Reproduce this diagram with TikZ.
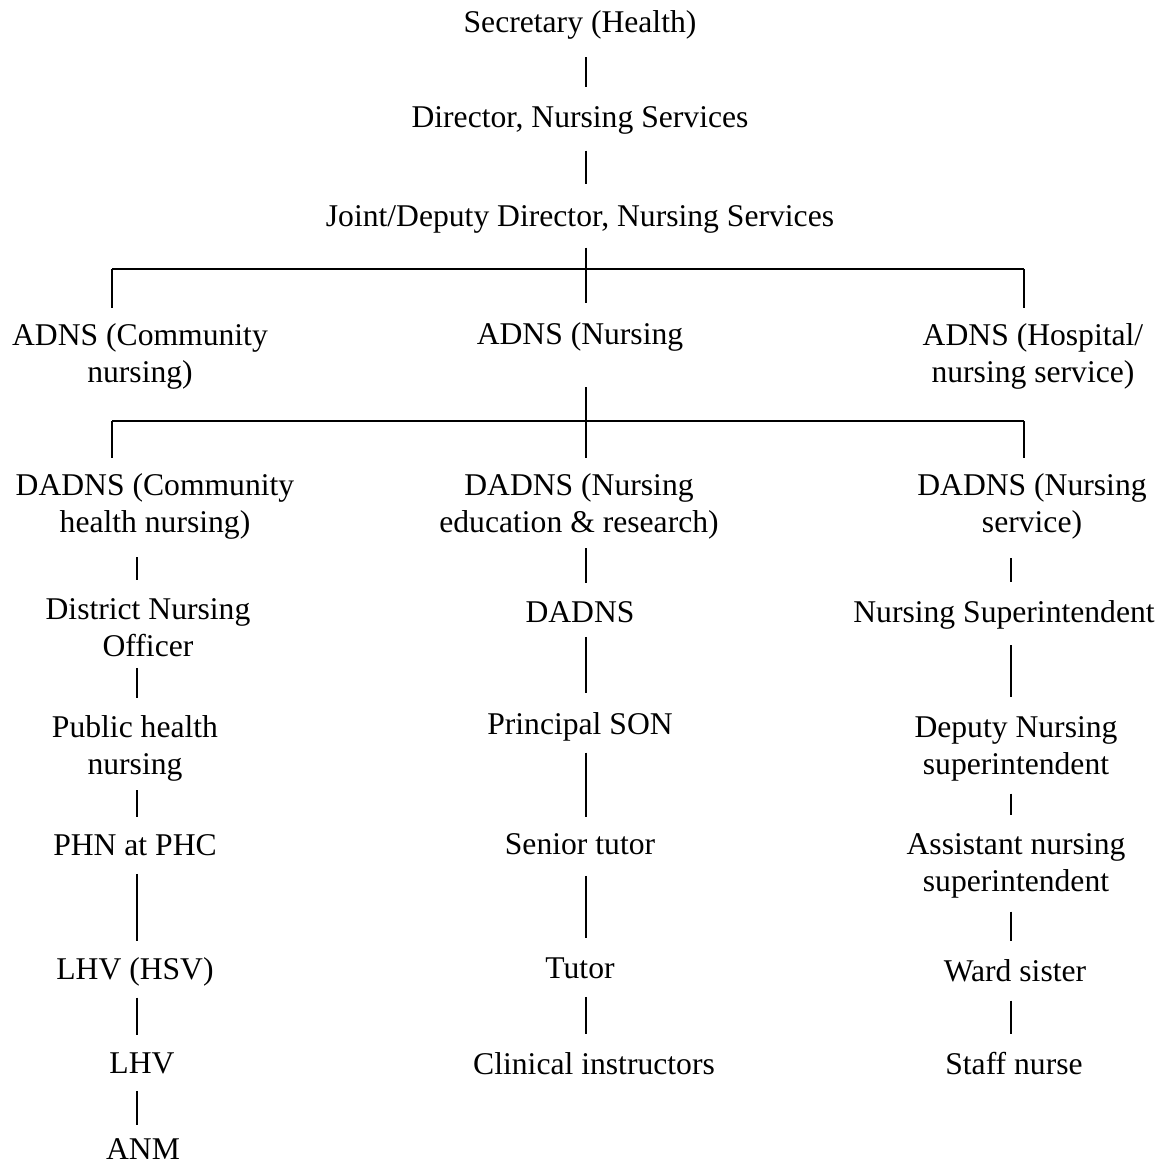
\documentclass[tikz,border=0pt]{standalone}
\usepackage{fontspec}
\setmainfont{Liberation Serif}
\begin{document}
\begin{tikzpicture}[
        post/.style={inner sep=0pt, align=center, font=\fontsize{18}{21}\selectfont},
        link/.style={line width=1.1pt}
    ]
        \useasboundingbox (0,0) rectangle (23.34,-23.36);

        \node[post] (sec) at (11.6,-0.5) {Secretary (Health)};
        \node[post] (dir) at (11.6,-2.4) {Director, Nursing Services};
        \node[post] (jdd) at (11.6,-4.38) {Joint/Deputy Director, Nursing Services};

        \node[post] (adnsC) at (2.8,-7.12) {ADNS (Community\\nursing)};
        \node[post] (adnsN) at (11.6,-6.74) {ADNS (Nursing};
        \node[post] (adnsH) at (20.66,-7.12) {ADNS (Hospital/\\nursing service)};

        \node[post] (dadnsC) at (3.1,-10.12) {DADNS (Community\\health nursing)};
        \node[post] (dadnsE) at (11.58,-10.12) {DADNS (Nursing\\education \& research)};
        \node[post] (dadnsS) at (20.64,-10.12) {DADNS (Nursing\\service)};

        \node[post] (dno) at (2.96,-12.55) {District Nursing\\Officer};
        \node[post] (phn) at (2.7,-14.96) {Public health\\nursing};
        \node[post] (phnphc) at (2.7,-16.9) {PHN at PHC};
        \node[post] (lhvhsv) at (2.7,-19.44) {LHV (HSV)};
        \node[post] (lhv) at (2.84,-21.26) {LHV};
        \node[post] (anm) at (2.86,-22.98) {ANM};

        \node[post] (dadns) at (11.6,-12.24) {DADNS};
        \node[post] (prin) at (11.6,-14.54) {Principal SON};
        \node[post] (senior) at (11.6,-16.88) {Senior tutor};
        \node[post] (tutor) at (11.6,-19.36) {Tutor};
        \node[post] (clin) at (11.88,-21.28) {Clinical instructors};

        \node[post] (ns) at (20.08,-12.29) {Nursing Superintendent};
        \node[post] (dns) at (20.32,-14.98) {Deputy Nursing\\superintendent};
        \node[post] (ans) at (20.32,-17.32) {Assistant nursing\\superintendent};
        \node[post] (ward) at (20.3,-19.42) {Ward sister};
        \node[post] (staff) at (20.28,-21.28) {Staff nurse};

        \coordinate (colL) at (2.74,0);
        \coordinate (colM) at (11.72,0);
        \coordinate (colR) at (20.22,0);
        \coordinate (busA) at (11.72,-5.38);
        \coordinate (busAL) at (2.24,-5.38);
        \coordinate (busAR) at (20.48,-5.38);
        \coordinate (busB) at (11.72,-8.42);
        \coordinate (busBL) at (2.24,-8.42);
        \coordinate (busBR) at (20.48,-8.42);

        \draw[link, shorten <=0.35cm, shorten >=0.38cm] (sec.south -| colM) -- (dir.north -| colM);
        \draw[link, shorten <=0.33cm, shorten >=0.42cm] (dir.south -| colM) -- (jdd.north -| colM);
        \draw[link, shorten <=0.29cm, shorten >=0.38cm] (jdd.south -| busA) -- (busA |- adnsN.north);
        \draw[link] (busAL) -- (busAR);
        \draw[link, shorten >=0.3cm] (busAL) -- (busAL |- adnsC.north);
        \draw[link, shorten >=0.3cm] (busAR) -- (busAR |- adnsH.north);

        \draw[link, shorten <=0.71cm, shorten >=0.3cm] (adnsN.south -| busB) -- (busB |- dadnsE.north);
        \draw[link] (busBL) -- (busBR);
        \draw[link, shorten >=0.3cm] (busBL) -- (busBL |- dadnsC.north);
        \draw[link, shorten >=0.3cm] (busBR) -- (busBR |- dadnsS.north);

        \draw[link, shorten <=0.36cm, shorten >=0.36cm] (dadnsC.south -| colL) -- (dno.north -| colL);
        \draw[link, shorten <=0.22cm, shorten >=0.34cm] (dno.south -| colL) -- (phn.north -| colL);
        \draw[link, shorten <=0.18cm, shorten >=0.34cm] (phn.south -| colL) -- (phnphc.north -| colL);
        \draw[link, shorten <=0.36cm, shorten >=0.32cm] (phnphc.south -| colL) -- (lhvhsv.north -| colL);
        \draw[link, shorten <=0.22cm, shorten >=0.34cm] (lhvhsv.south -| colL) -- (lhv.north -| colL);
        \draw[link, shorten <=0.34cm, shorten >=0.26cm] (lhv.south -| colL) -- (anm.north -| colL);

        \draw[link, shorten <=0.18cm, shorten >=0.36cm] (dadnsE.south -| colM) -- (dadns.north -| colM);
        \draw[link, shorten <=0.28cm, shorten >=0.38cm] (dadns.south -| colM) -- (prin.north -| colM);
        \draw[link, shorten <=0.22cm, shorten >=0.32cm] (prin.south -| colM) -- (senior.north -| colM);
        \draw[link, shorten <=0.42cm, shorten >=0.39cm] (senior.south -| colM) -- (tutor.north -| colM);
        \draw[link, shorten <=0.36cm, shorten >=0.38cm] (tutor.south -| colM) -- (clin.north -| colM);

        \draw[link, shorten <=0.38cm, shorten >=0.36cm] (dadnsS.south -| colR) -- (ns.north -| colR);
        \draw[link, shorten <=0.32cm, shorten >=0.38cm] (ns.south -| colR) -- (dns.north -| colR);
        \draw[link, shorten <=0.24cm, shorten >=0.36cm] (dns.south -| colR) -- (ans.north -| colR);
        \draw[link, shorten <=0.26cm, shorten >=0.36cm] (ans.south -| colR) -- (ward.north -| colR);
        \draw[link, shorten <=0.36cm, shorten >=0.36cm] (ward.south -| colR) -- (staff.north -| colR);
    \end{tikzpicture}
\end{document}
